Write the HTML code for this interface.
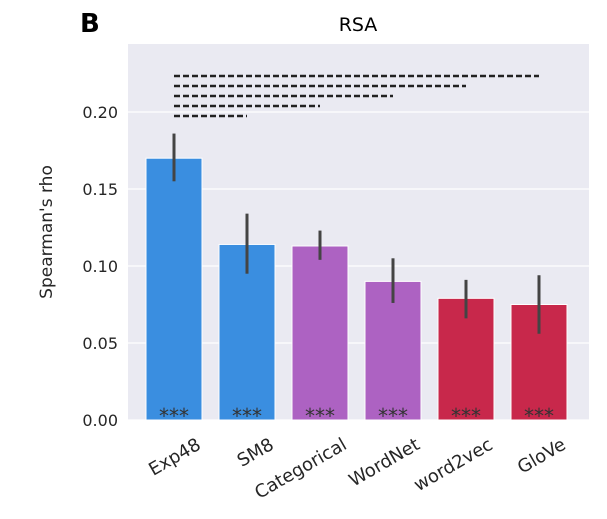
<!DOCTYPE html>
<html><head><meta charset="utf-8"><style>
body{margin:0;background:#fff;}
svg text{font-family:"DejaVu Sans","Liberation Sans",sans-serif;}
</style></head><body>
<svg id="chart" width="607" height="514" xmlns="http://www.w3.org/2000/svg">
<text x="80" y="32" font-size="26" font-weight="bold" font-family="Liberation Sans">B</text>
<text x="358" y="31" font-size="19" text-anchor="middle">RSA</text>
<rect x="128" y="44" width="461" height="376" fill="#eaeaf2"/>
<g id="grid"></g>
<g id="bars"></g>
<g id="sig"></g>
<g id="ticks"></g>
<text transform="translate(52,232) rotate(-90)" font-size="17" text-anchor="middle" fill="#262626">Spearman's rho</text>
</svg>
<script>
const categories=["Exp48","SM8","Categorical","WordNet","word2vec","GloVe"];
const values=[0.170,0.114,0.113,0.090,0.079,0.075];
const errLow=[0.155,0.095,0.104,0.076,0.066,0.056];
const errHigh=[0.186,0.134,0.123,0.105,0.091,0.094];
const colors=["#3a8ee0","#3a8ee0","#ad62c2","#ad62c2","#c8284b","#c8284b"];
const yTicks=[0,0.05,0.10,0.15,0.20];
const yTickLabels=["0.00","0.05","0.10","0.15","0.20"];
const sigEnds=[5,4,3,2,1];
const NS="http://www.w3.org/2000/svg";
const y0=420, pxPerUnit=1540;
function y(v){return y0-v*pxPerUnit;}
const step=73;
function xc(i){return 174+step*i;}
const bw=56;
function mk(tag,attrs,parent,text){const e=document.createElementNS(NS,tag);for(const k in attrs)e.setAttribute(k,attrs[k]);if(text!=null)e.textContent=text;document.getElementById(parent).appendChild(e);return e;}
yTicks.forEach((t,i)=>{
  const g=mk('line',{x1:128,x2:589,y1:y(t),y2:y(t),stroke:'#fff','stroke-width':1.3},'grid');
  
  
  const l=mk('text',{x:118,y:y(t)+6,'font-size':16,'text-anchor':'end',fill:'#262626'},'ticks',yTickLabels[i]);
  
  
});
categories.forEach((c,i)=>{
  const b=mk('rect',{x:xc(i)-bw/2,y:y(values[i]),width:bw,height:y0-y(values[i]),fill:colors[i],stroke:'#fff','stroke-width':1},'bars');
  
  
  const e=mk('line',{x1:xc(i),x2:xc(i),y1:y(errLow[i]),y2:y(errHigh[i]),stroke:'#444','stroke-width':3},'bars');
  
  
  const s=mk('text',{x:xc(i),y:423,'font-size':20,'text-anchor':'middle',fill:'#333'},'bars','***');
  
  
  const t=mk('text',{transform:`translate(${xc(i)+28},${448}) rotate(-30)`,'font-size':18,'text-anchor':'end',fill:'#262626'},'ticks',c);
  
  
});
sigEnds.forEach((j,k)=>{
  const yy=76+k*10;
  const l=mk('line',{x1:xc(0),x2:xc(j),y1:yy,y2:yy,stroke:'#222','stroke-width':2.5,'stroke-dasharray':'6 3'},'sig');
  
  
});
</script>
</body></html>
